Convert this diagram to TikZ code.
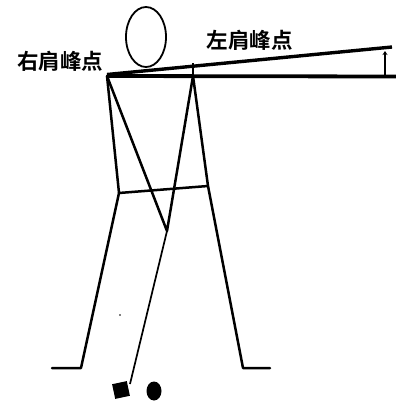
\documentclass[tikz,border=0pt]{standalone}
\usepackage{fontspec}
\newfontfamily\cjk{Noto Sans CJK SC}[BoldFont={Noto Sans CJK SC Bold}]
\usetikzlibrary{arrows.meta}
\begin{document}
\begin{tikzpicture}[x=1pt,y=-1pt,
  limb/.style={line width=2.5pt,line cap=round,line join=round},
  club/.style={line width=1.7pt},
  refline/.style={line width=3.8pt},
  lbl/.style={font=\cjk\bfseries\fontsize{21.5}{24}\selectfont,inner sep=0pt}]
\useasboundingbox (0,0) rectangle (396,407);
% key points of the figure
\coordinate (rs) at (107,76);   % right shoulder
\coordinate (ls) at (193,76);   % left shoulder
\coordinate (hl) at (119,193);  % hip, left
\coordinate (hr) at (208,186);  % hip, right
\coordinate (hands) at (167,231);
\coordinate (fl) at (81,368);
\coordinate (fle) at (52,368);
\coordinate (fr) at (243,368);
\coordinate (fre) at (270,368);
\coordinate (tip) at (130,384);
\coordinate (tiltend) at (392,47);
\coordinate (hend) at (396,76.5);
% head
\draw[line width=1.8pt] (146,37) ellipse [x radius=20, y radius=30];
% shoulder reference lines
\draw[refline] (rs) -- (hend);
\draw[refline,line width=3.4pt] (107,74.5) -- (tiltend);
\coordinate (abase) at (385,74.5);
\coordinate (atop) at (385,51);
\draw[line width=1.7pt,-{Stealth[length=4pt,width=5pt]}] (abase) -- (atop);
\coordinate (tbase) at (193,74.5);
\coordinate (ttop) at (193,63);
\draw[line width=1.4pt] (tbase) -- (ttop);
% torso and arms
\draw[limb] (rs) -- (hl) -- (hr) -- (ls);
\draw[limb] (rs) -- (hands) -- (ls);
% legs
\draw[limb] (hl) -- (fl) -- (fle);
\draw[limb] (hr) -- (fr) -- (fre);
% club and ball
\draw[club] (hands) -- (tip);
\fill[rotate around={12:(121,390)}] (113.5,382.5) rectangle (128.5,397.5);
\fill (154,391) ellipse [x radius=7.5, y radius=9.5];
\fill (120,315) circle (0.8);
% labels
\node[lbl] (rl) at (60,61) {右肩峰点};
\node[lbl] (ll) at (249.5,40.5) {左肩峰点};
\end{tikzpicture}
\end{document}
